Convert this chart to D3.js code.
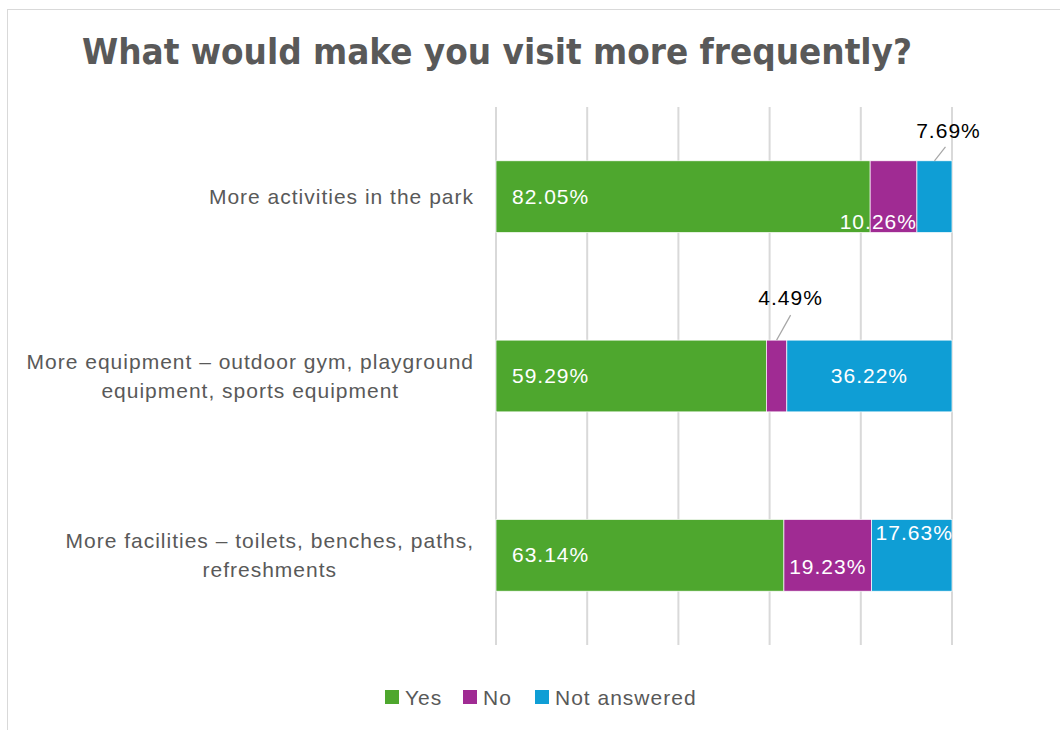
<!DOCTYPE html>
<html>
<head>
<meta charset="utf-8" />
<title>What would make you visit more frequently?</title>
<style type="text/css">
  body { margin: 0; background: #fff; font-family: 'Liberation Sans', Arial, sans-serif; }
  svg text { letter-spacing: 1px; }
  svg text.title { letter-spacing: 0; }
</style>
</head>
<body>
<div id="graph"></div>
<script src="https://cdn.jsdelivr.net/npm/d3@7/dist/d3.min.js"></script>
<script>
// data
var categories = [
  ["More activities in the park"],
  ["More equipment \u2013 outdoor gym, playground", "equipment, sports equipment"],
  ["More facilities \u2013 toilets, benches, paths,", "refreshments"]
];
var series = ["Yes", "No", "Not answered"];
var yes = [82.05, 59.29, 63.14];
var no = [10.26, 4.49, 19.23];
var notAnswered = [7.69, 36.22, 17.63];
var xTicks = [0, 20, 40, 60, 80, 100];
var colors = ["#4ea72e", "#a02b93", "#0f9ed5"];

var width = 1060, height = 730;
var plot = {left: 496, right: 952, top: 107, bottom: 645};

var svg = d3.select("#graph").append("svg")
    .attr("width", width)
    .attr("height", height);

// chart frame
svg.append("rect")
    .attr("x", 7.5).attr("y", 9.5)
    .attr("width", 1070).attr("height", 740)
    .attr("fill", "none")
    .attr("stroke", "#d9d9d9");

svg.append("text")
    .attr("class", "title")
    .attr("x", 82).attr("y", 64)
    .attr("textLength", 830)
    .attr("lengthAdjust", "spacingAndGlyphs")
    .attr("fill", "#595959")
    .style("font-family", "'Liberation Sans Narrow', 'DejaVu Sans Condensed', sans-serif")
    .style("font-weight", "bold")
    .style("font-size", "35px")
    .text("What would make you visit more frequently?");

var x = d3.scaleLinear().domain([0, 100]).range([plot.left, plot.right]);
var y = d3.scaleBand().domain(d3.range(categories.length))
    .range([plot.top, plot.bottom]).paddingInner(0.6).paddingOuter(0.3);

// gridlines
svg.append("g").selectAll("line")
    .data(xTicks)
  .enter().append("line")
    .attr("x1", function(d) { return x(d); })
    .attr("x2", function(d) { return x(d); })
    .attr("y1", plot.top).attr("y2", plot.bottom)
    .attr("stroke", "#d9d9d9")
    .attr("stroke-width", 2);

// stacked bars
var rows = categories.map(function(c, i) {
  return {i: i, values: [yes[i], no[i], notAnswered[i]]};
});
var stack = d3.stack().keys([0, 1, 2]).value(function(d, k) { return d.values[k]; });
var layers = stack(rows);

svg.append("g").selectAll("g")
    .data(layers)
  .enter().append("g")
    .attr("fill", function(d, k) { return colors[k]; })
  .selectAll("rect")
    .data(function(d) { return d; })
  .enter().append("rect")
    .attr("x", function(d) { return x(d[0]); })
    .attr("width", function(d) { return x(d[1]) - x(d[0]); })
    .attr("y", function(d) { return y(d.data.i); })
    .attr("height", y.bandwidth())
    .attr("stroke", "#fff")
    .attr("stroke-width", 0.7);

// category labels: lines centred on each other, block right-aligned at 474
var catG = svg.append("g")
    .attr("fill", "#595959")
    .style("font-size", "21px")
    .attr("text-anchor", "middle");
categories.forEach(function(lines, i) {
  var cy = y(i) + y.bandwidth() / 2;
  var t = catG.append("text");
  var spans = lines.map(function(line, j) {
    return t.append("tspan")
      .attr("y", cy + 7 + (j - (lines.length - 1) / 2) * 29)
      .text(line);
  });
  var maxW = d3.max(spans, function(s) { return s.node().getComputedTextLength(); });
  spans.forEach(function(s) { s.attr("x", 474 - maxW / 2); });
});

// data labels
var fmt = function(v) { return v.toFixed(2) + "%"; };
var lab = svg.append("g").style("font-size", "21px");
var bw = y.bandwidth();

// row 0
lab.append("text").attr("x", x(0) + 16).attr("y", y(0) + bw / 2 + 7)
    .attr("fill", "#fff").text(fmt(yes[0]));
lab.append("text").attr("x", x(yes[0] + no[0])).attr("y", y(0) + bw - 4)
    .attr("text-anchor", "end").attr("fill", "#fff").text(fmt(no[0]));
lab.append("line")
    .attr("x1", x(yes[0] + no[0] + notAnswered[0] / 2)).attr("y1", y(0))
    .attr("x2", x(yes[0] + no[0] + notAnswered[0] / 2) + 11).attr("y2", y(0) - 14)
    .attr("stroke", "#a6a6a6").attr("stroke-width", 1.2);
lab.append("text").attr("x", x(yes[0] + no[0] + notAnswered[0] / 2) + 14).attr("y", y(0) - 23)
    .attr("text-anchor", "middle").attr("fill", "#000").text(fmt(notAnswered[0]));

// row 1
lab.append("text").attr("x", x(0) + 16).attr("y", y(1) + bw / 2 + 7)
    .attr("fill", "#fff").text(fmt(yes[1]));
lab.append("line")
    .attr("x1", x(yes[1] + no[1] / 2)).attr("y1", y(1))
    .attr("x2", x(yes[1] + no[1] / 2) + 14).attr("y2", y(1) - 25)
    .attr("stroke", "#a6a6a6").attr("stroke-width", 1.2);
lab.append("text").attr("x", x(yes[1] + no[1] / 2) + 14).attr("y", y(1) - 35)
    .attr("text-anchor", "middle").attr("fill", "#000").text(fmt(no[1]));
lab.append("text").attr("x", x(yes[1] + no[1] + notAnswered[1] / 2)).attr("y", y(1) + bw / 2 + 7)
    .attr("text-anchor", "middle").attr("fill", "#fff").text(fmt(notAnswered[1]));

// row 2
lab.append("text").attr("x", x(0) + 16).attr("y", y(2) + bw / 2 + 7)
    .attr("fill", "#fff").text(fmt(yes[2]));
lab.append("text").attr("x", x(yes[2] + no[2] / 2)).attr("y", y(2) + bw / 2 + 19)
    .attr("text-anchor", "middle").attr("fill", "#fff").text(fmt(no[2]));
lab.append("text").attr("x", x(yes[2] + no[2]) + 4).attr("y", y(2) + 21)
    .attr("fill", "#fff").text(fmt(notAnswered[2]));

// legend
var legend = svg.append("g").style("font-size", "21px").attr("fill", "#595959");
var lx = [385, 463, 535];
series.forEach(function(s, k) {
  legend.append("rect").attr("x", lx[k]).attr("y", 690).attr("width", 14).attr("height", 14)
      .attr("fill", colors[k]);
  legend.append("text").attr("x", lx[k] + 20).attr("y", 705).text(s);
});
</script>
</body>
</html>
